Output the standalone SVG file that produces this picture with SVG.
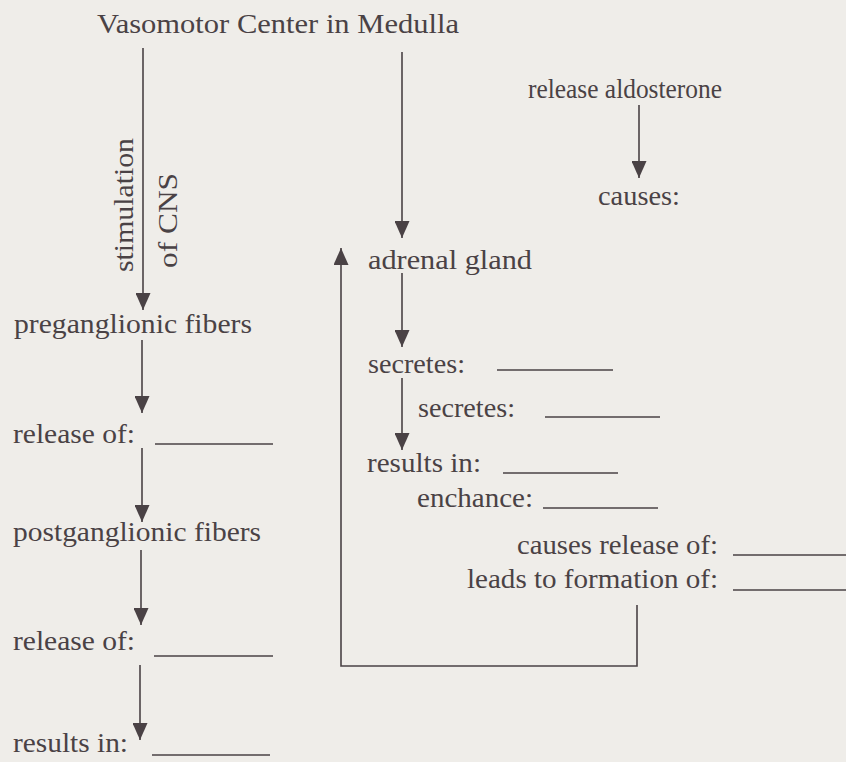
<svg xmlns="http://www.w3.org/2000/svg" width="846" height="762" viewBox="0 0 846 762">
<style>
.t{font-family:"Liberation Serif","DejaVu Serif",serif;font-size:28px;fill:#4a4245}
.c{stroke:#4a4245;stroke-width:1.6;fill:none}
.u{stroke:#4a4245;stroke-width:1.4}
</style>
<defs>
<marker id="ah" viewBox="0 0 17 15" refX="17" refY="7.5" markerWidth="17" markerHeight="15" markerUnits="userSpaceOnUse" orient="auto">
<path d="M0,0 L17,7.5 L0,15 z" fill="#4a4245"/>
</marker>
</defs>
<rect width="846" height="762" fill="#efede9"/>
<g id="connectors">
<line class="c" x1="143" y1="48" x2="143" y2="310" marker-end="url(#ah)"/>
<line class="c" x1="402" y1="52" x2="402" y2="238" marker-end="url(#ah)"/>
<line class="c" x1="142" y1="340" x2="142" y2="413" marker-end="url(#ah)"/>
<line class="c" x1="142" y1="448" x2="142" y2="522" marker-end="url(#ah)"/>
<line class="c" x1="141" y1="550" x2="141" y2="625" marker-end="url(#ah)"/>
<line class="c" x1="140" y1="665" x2="140" y2="740" marker-end="url(#ah)"/>
<line class="c" x1="402" y1="273" x2="402" y2="347" marker-end="url(#ah)"/>
<line class="c" x1="402" y1="378" x2="402" y2="450" marker-end="url(#ah)"/>
<line class="c" x1="639" y1="105" x2="639" y2="178" marker-end="url(#ah)"/>
<polyline class="c" points="637,605 637,666 341,666 341,248" marker-end="url(#ah)"/>
<text class="t" transform="rotate(-90 133 272)" x="133" y="272" textLength="134" lengthAdjust="spacingAndGlyphs">stimulation</text>
<text class="t" transform="rotate(-90 177 268)" x="177" y="268" textLength="95" lengthAdjust="spacingAndGlyphs">of CNS</text>
</g>
<g id="vasomotor"><text class="t" x="97" y="33" textLength="362" lengthAdjust="spacingAndGlyphs">Vasomotor Center in Medulla</text></g>
<g id="preganglionic"><text class="t" x="14" y="333" textLength="238" lengthAdjust="spacingAndGlyphs">preganglionic fibers</text></g>
<g id="release1"><text class="t" x="13" y="443" textLength="122" lengthAdjust="spacingAndGlyphs">release of:</text><line class="u" x1="155" y1="444" x2="273" y2="444"/></g>
<g id="postganglionic"><text class="t" x="13" y="541" textLength="248" lengthAdjust="spacingAndGlyphs">postganglionic fibers</text></g>
<g id="release2"><text class="t" x="13" y="650" textLength="122" lengthAdjust="spacingAndGlyphs">release of:</text><line class="u" x1="154" y1="656" x2="273" y2="656"/></g>
<g id="results1"><text class="t" x="13" y="752" textLength="115" lengthAdjust="spacingAndGlyphs">results in:</text><line class="u" x1="152" y1="755" x2="270" y2="755"/></g>
<g id="adrenal"><text class="t" x="368" y="269" textLength="164" lengthAdjust="spacingAndGlyphs">adrenal gland</text></g>
<g id="secretes1"><text class="t" x="368" y="373" textLength="97" lengthAdjust="spacingAndGlyphs">secretes:</text><line class="u" x1="497" y1="370" x2="613" y2="370"/></g>
<g id="secretes2"><text class="t" x="418" y="417" textLength="97" lengthAdjust="spacingAndGlyphs">secretes:</text><line class="u" x1="545" y1="417" x2="660" y2="417"/></g>
<g id="results2"><text class="t" x="367" y="472" textLength="114" lengthAdjust="spacingAndGlyphs">results in:</text><line class="u" x1="503" y1="473" x2="618" y2="473"/></g>
<g id="enchance"><text class="t" x="417" y="507" textLength="116" lengthAdjust="spacingAndGlyphs">enchance:</text><line class="u" x1="543" y1="508" x2="658" y2="508"/></g>
<g id="causesrelease"><text class="t" x="517" y="554" textLength="201" lengthAdjust="spacingAndGlyphs">causes release of:</text><line class="u" x1="733" y1="555" x2="846" y2="555"/></g>
<g id="leads"><text class="t" x="467" y="588" textLength="251" lengthAdjust="spacingAndGlyphs">leads to formation of:</text><line class="u" x1="733" y1="590" x2="846" y2="590"/></g>
<g id="aldosterone"><text class="t" x="528" y="98" textLength="194" lengthAdjust="spacingAndGlyphs">release aldosterone</text></g>
<g id="causes"><text class="t" x="598" y="205" textLength="82" lengthAdjust="spacingAndGlyphs">causes:</text></g>
</svg>
